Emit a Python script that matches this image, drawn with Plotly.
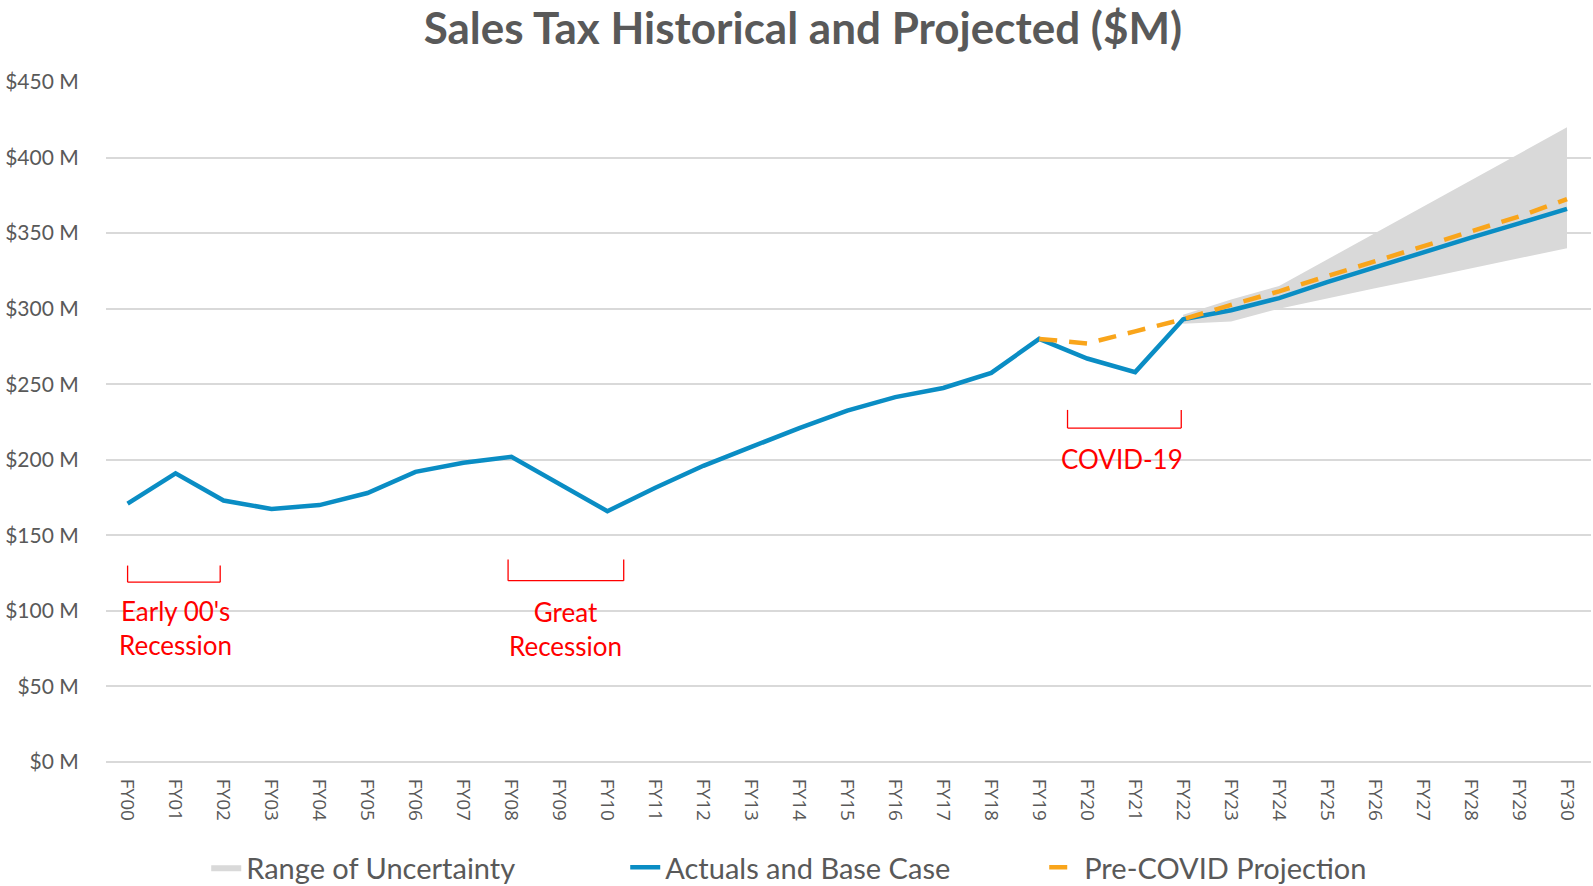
import plotly.graph_objects as go

years = ['FY%02d' % i for i in range(31)]

# actuals + base case ($M)
base_case = [171, 191, 173, 167.5, 170, 178, 192, 198, 202, 184, 166,
             181.5, 196, 208.5, 221, 232.5, 241.5, 247.5, 257.5, 280, 267,
             258, 293, 299, 307, 317.5, 327.5, 337.5, 347, 356.5, 366]

# pre-covid projection starts at FY19
precovid_years = years[19:]
precovid = [280, 277, 285, 293, 302.5, 311.5, 321.5, 331.5, 341, 351, 361, 372.5]

# range of uncertainty FY22-FY30
band_years = years[22:]
band_upper = [296, 306, 315, 332.5, 350, 367.5, 385, 402.5, 420]
band_lower = [290, 291.5, 300, 306.5, 313.5, 320, 326.5, 333.5, 340]

y_ticks = [0, 50, 100, 150, 200, 250, 300, 350, 400, 450]
y_labels = ['$%d M' % v for v in y_ticks]

grey_txt = '#595959'
font_name = 'Lato'

fig = go.Figure()

fig.add_trace(go.Scatter(
    x=band_years + band_years[::-1],
    y=band_upper + band_lower[::-1],
    fill='toself', fillcolor='#d9d9d9',
    line=dict(width=0, color='#d9d9d9'),
    mode='lines', name='Range of Uncertainty', hoverinfo='skip'))

fig.add_trace(go.Scatter(
    x=years, y=base_case, mode='lines', name='Actuals and Base Case',
    line=dict(color='#0a8dc4', width=4.5)))

fig.add_trace(go.Scatter(
    x=precovid_years, y=precovid, mode='lines', name='Pre-COVID Projection',
    line=dict(color='#f9a51b', width=4.5, dash='18px,12px')))

# recession brackets
brackets = [(0.0, 1.93, 130, 119), (7.93, 10.34, 134, 120), (19.59, 21.96, 233, 221)]
for x0, x1, top, bot in brackets:
    ln = dict(color='#ff0000', width=1.3)
    fig.add_shape(type='line', x0=x0, x1=x0, y0=top, y1=bot, line=ln)
    fig.add_shape(type='line', x0=x0, x1=x1, y0=bot, y1=bot, line=ln)
    fig.add_shape(type='line', x0=x1, x1=x1, y0=bot, y1=top, line=ln)

notes = [(1.0, 89, "Early 00's<br>Recession"),
         (9.12, 88, 'Great<br>Recession'),
         (20.73, 200.5, 'COVID-19')]
for x, y, t in notes:
    fig.add_annotation(x=x, y=y, text=t, showarrow=False,
                       font=dict(family=font_name, size=26, color='#ff0000'),
                       xanchor='center', yanchor='middle')

fig.update_layout(
    width=1593, height=886,
    margin=dict(l=106, r=2, t=82, b=124, autoexpand=False),
    paper_bgcolor='white', plot_bgcolor='white',
    font=dict(family=font_name, color=grey_txt),
    title=dict(text='Sales Tax Historical and Projected ($M)',
               x=0.504, xanchor='center', y=0.968, yanchor='middle', yref='container',
               font=dict(family=font_name, size=44, color=grey_txt, weight='bold')),
    legend=dict(orientation='h', xref='container', yref='container',
                x=0.524, xanchor='center', y=0.021, yanchor='middle',
                font=dict(family=font_name, size=29, color=grey_txt),
                entrywidth=374, traceorder='normal'),
    showlegend=True,
)

fig.update_xaxes(type='category', categoryorder='array', categoryarray=years,
                 tickangle=90, showgrid=False, showline=False,
                 ticks='outside', ticklen=12, tickcolor='rgba(0,0,0,0)',
                 tickfont=dict(family='Open Sans', size=19, color=grey_txt),
                 range=[-0.45, 30.5])
fig.update_yaxes(range=[0, 450], tickvals=y_ticks, ticktext=y_labels,
                 showgrid=True, gridcolor='#d9d9d9', gridwidth=1.5,
                 zeroline=True, zerolinecolor='#d9d9d9', zerolinewidth=1.5,
                 ticks='outside', ticklen=22, tickcolor='rgba(0,0,0,0)',
                 tickfont=dict(family=font_name, size=21, color=grey_txt))

fig.write_html('out.html', config={'displayModeBar': False},
               post_script="document.body.style.margin='0';")
